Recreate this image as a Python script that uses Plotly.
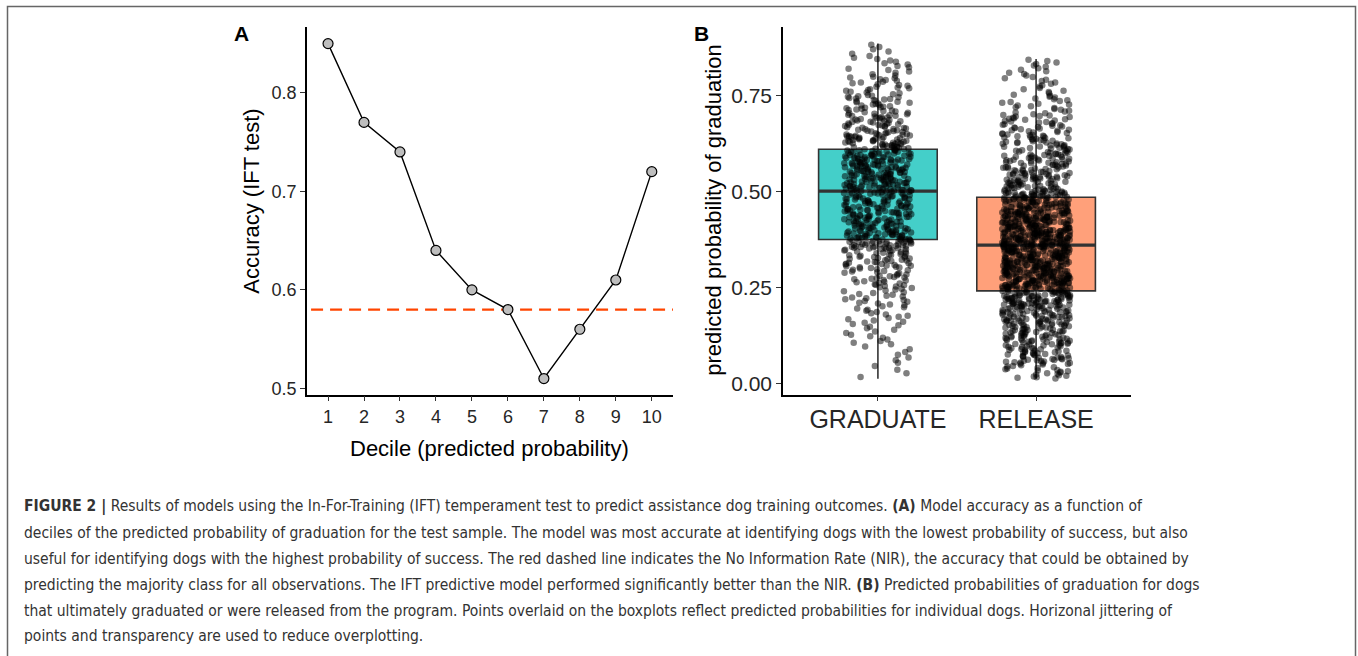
import plotly.graph_objects as go

W, H = 1358, 656

# ---------------- Panel A: accuracy by decile ----------------
deciles = [1, 2, 3, 4, 5, 6, 7, 8, 9, 10]
accuracy = [0.85, 0.77, 0.74, 0.64, 0.60, 0.58, 0.51, 0.56, 0.61, 0.72]
nir = 0.58
acc_ticks = [0.5, 0.6, 0.7, 0.8]

# ---------------- Panel B: predicted probability of graduation ----------------
groups = ["GRADUATE", "RELEASE"]
box_q1 = [0.375, 0.241]
box_median = [0.501, 0.360]
box_q3 = [0.610, 0.485]
box_low = [0.012, 0.012]
box_high = [0.885, 0.845]
prob_ticks = [0.00, 0.25, 0.50, 0.75]

# dogs per 0.05-wide probability bin (bins start at these lower edges)
bin_lower = [0.00, 0.05, 0.10, 0.15, 0.20, 0.25, 0.30, 0.35, 0.40,
             0.45, 0.50, 0.55, 0.60, 0.65, 0.70, 0.75, 0.80, 0.85]
graduate_counts = [4, 7, 12, 16, 22, 32, 44, 78, 68, 67, 82, 80, 65, 45, 35, 23, 14, 6]
release_counts = [22, 52, 62, 74, 100, 132, 132, 148, 126, 100, 66, 55, 45, 35, 22, 14, 12, 0]

BIN_W = 0.05
BOX_W = 0.75
JITTER = 0.215

caption_lines = [
    "<b>FIGURE 2 |</b> Results of models using the In-For-Training (IFT) temperament test to predict assistance dog training outcomes. <b>(A)</b> Model accuracy as a function of",
    "deciles of the predicted probability of graduation for the test sample. The model was most accurate at identifying dogs with the lowest probability of success, but also",
    "useful for identifying dogs with the highest probability of success. The red dashed line indicates the No Information Rate (NIR), the accuracy that could be obtained by",
    "predicting the majority class for all observations. The IFT predictive model performed significantly better than the NIR. <b>(B)</b> Predicted probabilities of graduation for dogs",
    "that ultimately graduated or were released from the program. Points overlaid on the boxplots reflect predicted probabilities for individual dogs. Horizonal jittering of",
    "points and transparency are used to reduce overplotting.",
]


def px_x(x):
    return x / W


def px_y(y):
    return 1 - y / H


def expand_bins(counts, lo_lim, hi_lim):
    """Spread each bin's dogs evenly over the bin's probability interval."""
    vals = []
    for lo, n in zip(bin_lower, counts):
        a = max(lo, lo_lim)
        b = min(lo + BIN_W, hi_lim)
        for k in range(n):
            vals.append(a + (k + 0.5) / n * (b - a))
    return vals


def _scramble(i):
    # integer hash -> [0, 1), used only to spread points sideways
    h = ((i + 1) * 2654435761) & 0xFFFFFFFF
    h ^= h >> 16
    h = (h * 0x45D9F3B) & 0xFFFFFFFF
    h ^= h >> 16
    h = (h * 0x45D9F3B) & 0xFFFFFFFF
    h ^= h >> 16
    return h / 4294967296.0


def jitter_offsets(n, start):
    return [(_scramble(start + i) - 0.5) * 2 * JITTER for i in range(n)]


FONT = "Liberation Sans, Arial, sans-serif"
TICK_COL = "#262626"

fig = go.Figure()

# --- Panel A ---
fig.add_trace(go.Scatter(
    x=[deciles[0] - 1, deciles[-1] + 1], y=[nir, nir], mode="lines",
    line=dict(color="#FF4500", width=2.2, dash="12px,7px"),
    xaxis="x", yaxis="y", hoverinfo="skip", showlegend=False))
fig.add_trace(go.Scatter(
    x=deciles, y=accuracy, mode="lines+markers",
    line=dict(color="black", width=1.4),
    marker=dict(size=10, color="#BEBEBE", line=dict(color="black", width=1.2)),
    xaxis="x", yaxis="y", showlegend=False))

# --- Panel B: boxes ---
box_fills = ["#44CFC9", "#FFA07A"]
for i, g in enumerate(groups):
    pos = i + 1
    fig.add_trace(go.Box(
        x=[pos], q1=[box_q1[i]], median=[box_median[i]], q3=[box_q3[i]],
        lowerfence=[box_low[i]], upperfence=[box_high[i]],
        width=BOX_W, whiskerwidth=0, fillcolor=box_fills[i],
        line=dict(color="#333333", width=1.6), boxpoints=False,
        xaxis="x2", yaxis="y2", showlegend=False, hoverinfo="skip", name=g))
    fig.add_trace(go.Scatter(
        x=[pos - BOX_W / 2, pos + BOX_W / 2], y=[box_median[i]] * 2, mode="lines",
        line=dict(color="#333333", width=3.2),
        xaxis="x2", yaxis="y2", showlegend=False, hoverinfo="skip"))

# --- Panel B: individual dogs ---
count_sets = [graduate_counts, release_counts]
start = 0
for i, g in enumerate(groups):
    vals = expand_bins(count_sets[i], box_low[i], box_high[i])
    offs = jitter_offsets(len(vals), start)
    start += len(vals)
    fig.add_trace(go.Scatter(
        x=[i + 1 + o for o in offs], y=vals, mode="markers",
        marker=dict(size=6.5, color="rgba(0,0,0,0.5)", line=dict(width=0)),
        xaxis="x2", yaxis="y2", showlegend=False, name=g))

axis_common = dict(showline=True, linecolor="black", linewidth=1.6, ticks="outside",
                   ticklen=5, tickwidth=1.2, tickcolor="#333333", showgrid=False,
                   zeroline=False, fixedrange=True)

fig.update_layout(
    width=W, height=H, autosize=False,
    margin=dict(l=0, r=0, t=0, b=0),
    paper_bgcolor="white", plot_bgcolor="white",
    font=dict(family=FONT, color="black"),
    xaxis=dict(domain=[px_x(307), px_x(673)], range=[0.415, 10.59],
               tickvals=deciles, tickfont=dict(size=18, color=TICK_COL),
               anchor="y", **axis_common),
    yaxis=dict(domain=[px_y(397), px_y(27)], range=[0.4937, 0.867],
               tickvals=acc_ticks, ticktext=[f"{v:.1f}" for v in acc_ticks],
               tickfont=dict(size=18, color=TICK_COL), anchor="x", **axis_common),
    xaxis2=dict(domain=[px_x(783), px_x(1131)], range=[0.4, 2.6],
                tickvals=[1, 2], ticktext=groups, ticklabelstandoff=-3,
                tickfont=dict(size=25, color=TICK_COL), anchor="y2", **axis_common),
    yaxis2=dict(domain=[px_y(397), px_y(27)], range=[-0.029, 0.9286],
                tickvals=prob_ticks, ticktext=[f"{v:.2f}" for v in prob_ticks],
                tickfont=dict(size=21, color=TICK_COL), anchor="x2", **axis_common),
)

ann = []
# panel letters
ann.append(dict(text="<b>A</b>", x=px_x(232), y=px_y(34), xref="paper", yref="paper",
                xanchor="left", yanchor="middle", showarrow=False,
                font=dict(size=21, family=FONT, color="black")))
ann.append(dict(text="<b>B</b>", x=px_x(692), y=px_y(34), xref="paper", yref="paper",
                xanchor="left", yanchor="middle", showarrow=False,
                font=dict(size=21, family=FONT, color="black")))
# axis titles
ann.append(dict(text="Decile (predicted probability)", x=px_x(489), y=px_y(451),
                xref="paper", yref="paper", xanchor="center", yanchor="middle",
                showarrow=False, font=dict(size=22, family=FONT, color="black")))
ann.append(dict(text="Accuracy (IFT test)", x=px_x(252), y=px_y(203),
                xref="paper", yref="paper", xanchor="center", yanchor="middle",
                textangle=-90, showarrow=False,
                font=dict(size=22, family=FONT, color="black")))
ann.append(dict(text="predicted probability of graduation", x=px_x(714), y=px_y(212),
                xref="paper", yref="paper", xanchor="center", yanchor="middle",
                textangle=-90, showarrow=False,
                font=dict(size=22, family=FONT, color="black")))
# caption
cap_y = [510, 536.5, 562.5, 589, 614.5, 640]
for line, yy in zip(caption_lines, cap_y):
    ann.append(dict(text=line, x=px_x(22), y=px_y(yy), xref="paper", yref="paper",
                    xanchor="left", yanchor="middle", showarrow=False,
                    font=dict(size=15.5, family="DejaVu Sans Condensed, sans-serif",
                              color="#333333")))
fig.update_layout(annotations=ann)

# frame around the figure
fig.add_shape(type="rect", xref="paper", yref="paper",
              x0=px_x(7.5), x1=px_x(1355.5), y0=-0.05, y1=px_y(6.5),
              line=dict(color="#666666", width=1.5), fillcolor="rgba(0,0,0,0)", layer="below")

fig.write_html("out.html", config={"displayModeBar": False})
